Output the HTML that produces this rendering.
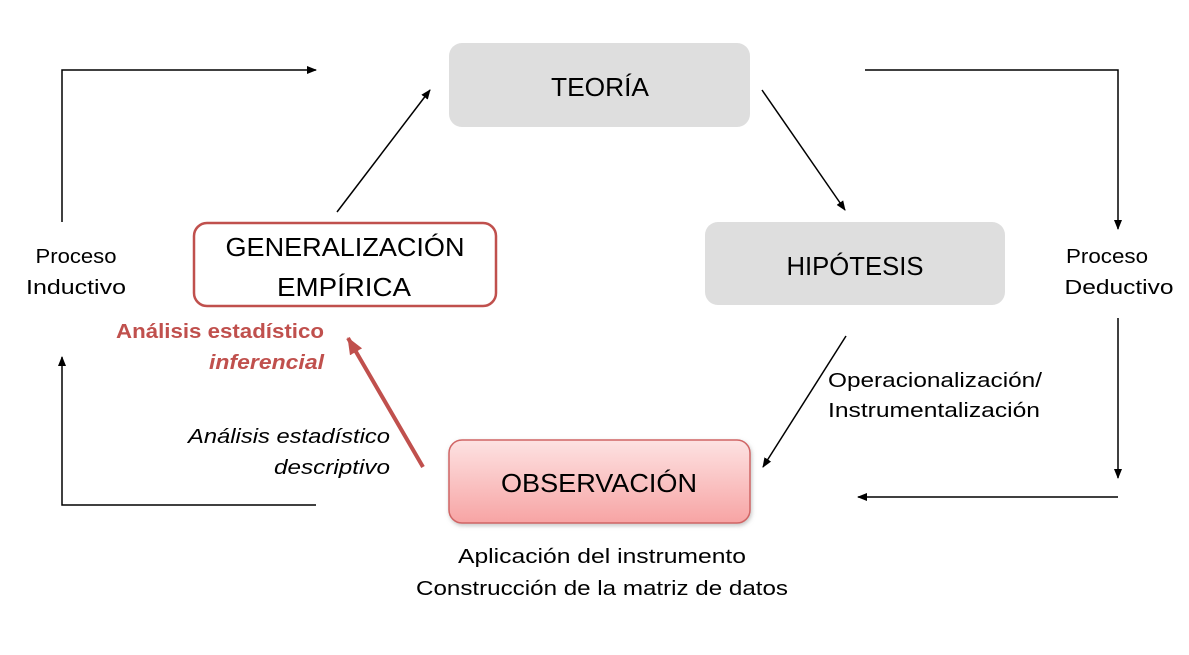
<!DOCTYPE html>
<html><head><meta charset="utf-8"><style>
html,body{margin:0;padding:0;background:#fff;}
svg{display:block;font-family:"Liberation Sans",sans-serif;}
</style></head><body>
<svg width="1189" height="655" viewBox="0 0 1189 655" xmlns="http://www.w3.org/2000/svg">
<defs>
<marker id="a" markerWidth="10" markerHeight="10" refX="9" refY="5" orient="auto" markerUnits="userSpaceOnUse">
<path d="M0,1 L10,5 L0,9 Z" fill="#000"/></marker>
<marker id="r" markerWidth="20" markerHeight="20" refX="16" refY="8" orient="auto" markerUnits="userSpaceOnUse">
<path d="M0,1 L17,8 L0,15 Z" fill="#c0504d"/></marker>
<linearGradient id="g" x1="0" y1="0" x2="0" y2="1"><stop offset="0" stop-color="#fde2e2"/><stop offset="1" stop-color="#f7a4a4"/></linearGradient>
<filter id="s" x="-5%" y="-5%" width="110%" height="120%"><feDropShadow dx="1" dy="2" stdDeviation="2" flood-color="#888" flood-opacity="0.5"/></filter>
</defs>
<rect x="449" y="43" width="301" height="84" rx="13" fill="#dedede"/>
<rect x="705" y="222" width="300" height="83" rx="13" fill="#dedede"/>
<rect x="194" y="223" width="302" height="83" rx="13" fill="#fff" stroke="#c0504d" stroke-width="2.5"/>
<rect x="449" y="440" width="301" height="83" rx="13" fill="url(#g)" stroke="#d06565" stroke-width="1.5" filter="url(#s)"/>
<g font-size="26" text-anchor="middle" fill="#000">
<text x="600" y="96" textLength="98" lengthAdjust="spacingAndGlyphs">TEORÍA</text>
<text x="855" y="275" textLength="137" lengthAdjust="spacingAndGlyphs">HIPÓTESIS</text>
<text x="345" y="256" textLength="239" lengthAdjust="spacingAndGlyphs">GENERALIZACIÓN</text>
<text x="344" y="296" textLength="134" lengthAdjust="spacingAndGlyphs">EMPÍRICA</text>
<text x="599" y="492" textLength="196" lengthAdjust="spacingAndGlyphs">OBSERVACIÓN</text>
</g>
<g stroke="#000" stroke-width="1.5" fill="none">
<polyline points="62,222 62,70 316,70" marker-end="url(#a)"/>
<polyline points="316,505 62,505 62,357" marker-end="url(#a)"/>
<polyline points="865,70 1118,70 1118,229" marker-end="url(#a)"/>
<line x1="1118" y1="318" x2="1118" y2="478" marker-end="url(#a)"/>
<line x1="1118" y1="497" x2="858" y2="497" marker-end="url(#a)"/>
<line x1="337" y1="212" x2="430" y2="90" marker-end="url(#a)"/>
<line x1="762" y1="90" x2="845" y2="210" marker-end="url(#a)"/>
<line x1="846" y1="336" x2="763" y2="467" marker-end="url(#a)"/>
</g>
<line x1="423" y1="467" x2="348" y2="338" stroke="#c0504d" stroke-width="4" marker-end="url(#r)"/>
<g font-size="20" fill="#000">
<text x="76" y="263" text-anchor="middle" textLength="81" lengthAdjust="spacingAndGlyphs">Proceso</text>
<text x="76" y="294" text-anchor="middle" textLength="100" lengthAdjust="spacingAndGlyphs">Inductivo</text>
<text x="1107" y="263" text-anchor="middle" textLength="82" lengthAdjust="spacingAndGlyphs">Proceso</text>
<text x="1119" y="294" text-anchor="middle" textLength="109" lengthAdjust="spacingAndGlyphs">Deductivo</text>
<text x="828" y="387" textLength="214" lengthAdjust="spacingAndGlyphs">Operacionalización/</text>
<text x="828" y="417" textLength="212" lengthAdjust="spacingAndGlyphs">Instrumentalización</text>
<text x="602" y="563" text-anchor="middle" textLength="288" lengthAdjust="spacingAndGlyphs">Aplicación del instrumento</text>
<text x="602" y="595" text-anchor="middle" textLength="372" lengthAdjust="spacingAndGlyphs">Construcción de la matriz de datos</text>
<text x="390" y="443" text-anchor="end" font-style="italic" textLength="202" lengthAdjust="spacingAndGlyphs">Análisis estadístico</text>
<text x="390" y="474" text-anchor="end" font-style="italic" textLength="116" lengthAdjust="spacingAndGlyphs">descriptivo</text>
<text x="324" y="338" text-anchor="end" font-weight="bold" fill="#c0504d" textLength="208" lengthAdjust="spacingAndGlyphs">Análisis estadístico</text>
<text x="324" y="369" text-anchor="end" font-weight="bold" font-style="italic" fill="#c0504d" textLength="115" lengthAdjust="spacingAndGlyphs">inferencial</text>
</g>
</svg>
</body></html>
